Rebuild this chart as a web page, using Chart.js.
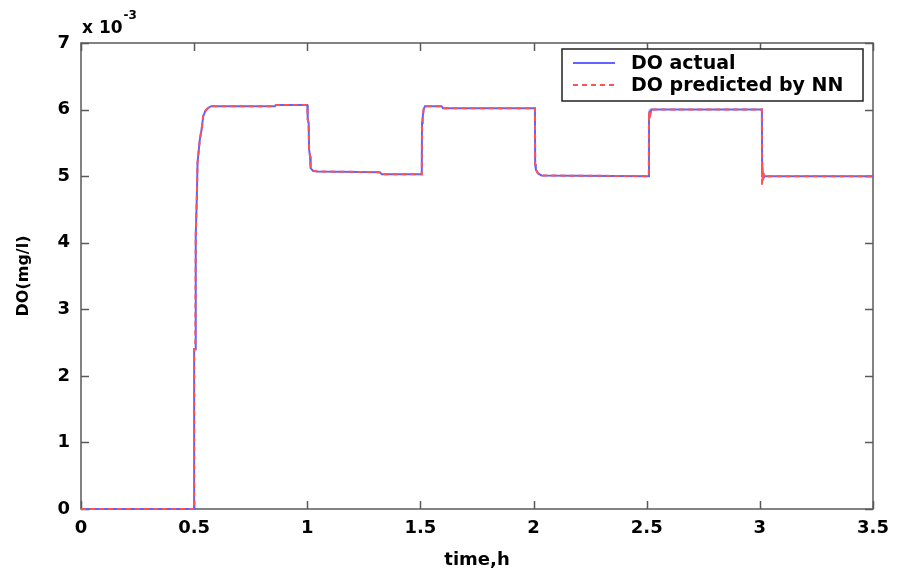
<!DOCTYPE html>
<html><head><meta charset="utf-8">
<script src="https://cdn.jsdelivr.net/npm/chart.js@4.4.0/dist/chart.umd.min.js"></script>
<style>html,body{margin:0;padding:0;background:#fff;} canvas{display:block;}</style>
</head><body>
<canvas id="c" width="904" height="574"></canvas>
<script>
// ---- data (DO in units of 1e-3 mg/l, time in hours) ----
const timeActual = [0, 0.5, 0.5, 0.505, 0.507, 0.512, 0.515, 0.525, 0.533, 0.54,
  0.55, 0.56, 0.575, 0.857, 0.862, 1.0, 1.002, 1.006, 1.008, 1.012,
  1.015, 1.025, 1.045, 1.32, 1.33, 1.506, 1.507, 1.51, 1.514, 1.52,
  1.593, 1.6, 2.006, 2.007, 2.01, 2.02, 2.035, 2.509, 2.51, 2.512,
  2.515, 2.52, 3.009, 3.01, 3.012, 3.015, 3.02, 3.5];
const doActual = [0, 0, 2.4, 2.4, 4.1, 4.7, 5.2, 5.55, 5.7, 5.9,
  5.98, 6.02, 6.05, 6.05, 6.07, 6.07, 5.85, 5.8, 5.4, 5.3,
  5.12, 5.08, 5.07, 5.06, 5.03, 5.03, 5.8, 5.88, 6.0, 6.05,
  6.05, 6.02, 6.02, 5.18, 5.1, 5.04, 5.01, 5.0, 5.9, 5.95,
  5.92, 6.0, 6.0, 5.0, 5.08, 4.97, 5.0, 5.0];
const timePredicted = [0, 0.5, 0.5, 0.505, 0.507, 0.512, 0.515, 0.525, 0.533, 0.54,
  0.55, 0.56, 0.575, 0.857, 0.862, 1.0, 1.002, 1.006, 1.008, 1.012,
  1.015, 1.025, 1.045, 1.32, 1.33, 1.506, 1.507, 1.51, 1.514, 1.52,
  1.593, 1.6, 2.006, 2.007, 2.01, 2.02, 2.035, 2.509, 2.51, 2.511,
  2.513, 2.518, 3.009, 3.0095, 3.011, 3.014, 3.018, 3.025, 3.5];
const doPredicted = [0, 0, 2.4, 2.4, 4.1, 4.7, 5.2, 5.55, 5.7, 5.9,
  5.98, 6.02, 6.05, 6.05, 6.07, 6.07, 5.85, 5.8, 5.4, 5.3,
  5.12, 5.08, 5.07, 5.06, 5.03, 5.03, 5.8, 5.88, 6.0, 6.05,
  6.05, 6.02, 6.02, 5.18, 5.1, 5.04, 5.01, 5.0, 5.85, 5.97,
  5.86, 6.0, 6.0, 4.85, 5.22, 4.92, 5.03, 5.0, 5.0];
const xTickLabels = ['0', '0.5', '1', '1.5', '2', '2.5', '3', '3.5'];
const yTickLabels = ['0', '1', '2', '3', '4', '5', '6', '7'];
const seriesNames = ['DO actual', 'DO predicted by NN'];
const xTitle = 'time,h';
const yTitle = 'DO(mg/l)';
const yMultiplierBase = 'x 10';
const yMultiplierExp = '-3';

const BLUE = '#6262ff';
const RED = '#ff5252';
const FONT = 'DejaVu Sans';

const toPoints = (ts, vs) => ts.map((t, i) => ({x: t, y: vs[i]}));

const framePlugin = {
  id: 'frame',
  beforeDatasetsDraw(chart) {
    const {ctx, chartArea: {left, right, top, bottom}, scales: {x, y}} = chart;
    ctx.save();
    ctx.strokeStyle = '#5a5a5a';
    ctx.lineWidth = 1.5;
    ctx.strokeRect(left, top, right - left, bottom - top);
    const tl = 8;
    ctx.beginPath();
    x.ticks.forEach(t => {
      const px = Math.round(x.getPixelForValue(t.value)) + 0.5;
      ctx.moveTo(px, bottom); ctx.lineTo(px, bottom - tl);
      ctx.moveTo(px, top); ctx.lineTo(px, top + tl);
    });
    y.ticks.forEach(t => {
      const py = Math.round(y.getPixelForValue(t.value)) + 0.5;
      ctx.moveTo(left, py); ctx.lineTo(left + tl, py);
      ctx.moveTo(right, py); ctx.lineTo(right - tl, py);
    });
    ctx.stroke();
    // exponent label
    ctx.fillStyle = '#000';
    ctx.textBaseline = 'alphabetic';
    ctx.textAlign = 'left';
    ctx.font = 'bold 17px ' + FONT;
    ctx.fillText(yMultiplierBase, left + 1, top - 10);
    const w = ctx.measureText(yMultiplierBase).width;
    ctx.font = 'bold 12px ' + FONT;
    ctx.fillText(yMultiplierExp, left + 1 + w + 1, top - 24);
    ctx.restore();
  },
  afterDatasetsDraw(chart) {
    const {ctx} = chart;
    ctx.save();
    const bx = 562, by = 49, bw = 301, bh = 52;
    ctx.fillStyle = '#fff';
    ctx.fillRect(bx, by, bw, bh);
    ctx.strokeStyle = '#222';
    ctx.lineWidth = 1.5;
    ctx.strokeRect(bx, by, bw, bh);
    const ds = chart.data.datasets;
    const rows = [by + 14, by + 36];
    ds.forEach((d, i) => {
      ctx.beginPath();
      ctx.strokeStyle = d.borderColor;
      ctx.lineWidth = 2;
      ctx.setLineDash(d.borderDash || []);
      ctx.moveTo(bx + 11, rows[i]); ctx.lineTo(bx + 53, rows[i]);
      ctx.stroke();
      ctx.setLineDash([]);
      ctx.fillStyle = '#000';
      ctx.font = 'bold 19px ' + FONT;
      ctx.textBaseline = 'middle';
      ctx.textAlign = 'left';
      ctx.fillText(d.label, bx + 69, rows[i] + 1);
    });
    ctx.restore();
  }
};

new Chart(document.getElementById('c'), {
  type: 'line',
  data: {
    datasets: [
      {label: seriesNames[0], data: toPoints(timeActual, doActual), borderColor: BLUE,
       borderWidth: 2, pointRadius: 0, tension: 0, fill: false, order: 2, clip: 6},
      {label: seriesNames[1], data: toPoints(timePredicted, doPredicted), borderColor: RED,
       borderWidth: 2, borderDash: [5, 4], pointRadius: 0, tension: 0, fill: false, order: 1, clip: 6}
    ]
  },
  options: {
    responsive: false,
    animation: false,
    devicePixelRatio: 1,
    layout: {padding: {top: 43, right: 31, left: 0, bottom: 0}},
    plugins: {legend: {display: false}, tooltip: {enabled: false}},
    scales: {
      x: {
        type: 'linear', min: 0, max: 3.5,
        grid: {display: false, drawTicks: false},
        border: {display: false},
        ticks: {stepSize: 0.5, color: '#000', padding: 9, maxRotation: 0,
                font: {family: FONT, size: 18, weight: 'bold'},
                callback: (v, i) => xTickLabels[i]},
        title: {display: true, text: xTitle, color: '#000',
                font: {family: FONT, size: 18, weight: 'bold'}, padding: {top: 0, bottom: 3}},
        afterFit: s => { s.height = 65; }
      },
      y: {
        min: 0, max: 7,
        grid: {display: false, drawTicks: false},
        border: {display: false},
        ticks: {stepSize: 1, color: '#000', padding: 11,
                font: {family: FONT, size: 18, weight: 'bold'},
                callback: (v, i) => yTickLabels[i]},
        title: {display: true, text: yTitle, color: '#000',
                font: {family: FONT, size: 16, weight: 'bold'}, padding: {top: 14, bottom: 0}},
        afterFit: s => { s.width = 81; }
      }
    }
  },
  plugins: [framePlugin]
});
</script>
</body></html>
